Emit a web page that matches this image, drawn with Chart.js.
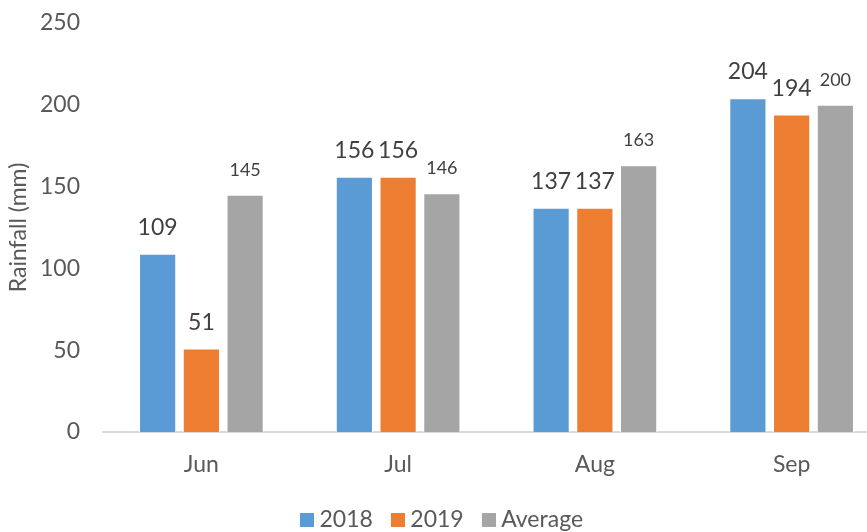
<!DOCTYPE html>
<html>
<head>
<meta charset="utf-8">
<script src="https://cdn.jsdelivr.net/npm/chart.js@4/dist/chart.umd.min.js"></script>
<style>
  html, body { margin: 0; padding: 0; background: #fff; overflow: hidden; }
  #wrap { width: 867px; height: 532px; overflow: hidden; }
</style>
</head>
<body>
<div id="wrap"><canvas id="grafico" width="896" height="541"></canvas></div>
<script>
// dados do gráfico
const meses = ['Jun', 'Jul', 'Aug', 'Sep'];
const chuva2018 = [109, 156, 137, 204];
const chuva2019 = [51, 156, 137, 194];
const chuvaMedia = [145, 146, 163, 200];
const ticksY = [0, 50, 100, 150, 200, 250];

const corTexto = '#595959';
const fonte = 'Lato';

// quadradinho da legenda
function quadrado(cor) {
  const c = document.createElement('canvas');
  c.width = 14;
  c.height = 14;
  const g = c.getContext('2d');
  g.fillStyle = cor;
  g.fillRect(0, 0, 14, 14);
  return c;
}

// rótulos em cima das barras
const rotulosPlugin = {
  id: 'rotulos',
  afterDatasetsDraw(chart) {
    const ctx = chart.ctx;
    ctx.save();
    ctx.textAlign = 'center';
    ctx.textBaseline = 'alphabetic';
    ctx.fillStyle = '#404040';
    chart.data.datasets.forEach((ds, i) => {
      const meta = chart.getDatasetMeta(i);
      const tamanho = i === 2 ? 18 : 23;
      ctx.font = tamanho + 'px ' + fonte;
      meta.data.forEach((el, j) => {
        ctx.fillText(String(ds.data[j]), el.x, el.y - 19);
      });
    });
    ctx.restore();
  }
};

new Chart(document.getElementById('grafico'), {
  type: 'bar',
  data: {
    labels: meses,
    datasets: [
      { label: '2018', data: chuva2018, backgroundColor: '#5B9BD5', borderColor: '#ffffff', borderWidth: 1, pointStyle: quadrado('#5B9BD5') },
      { label: '2019', data: chuva2019, backgroundColor: '#ED7D31', borderColor: '#ffffff', borderWidth: 1, pointStyle: quadrado('#ED7D31') },
      { label: 'Average', data: chuvaMedia, backgroundColor: '#A5A5A5', borderColor: '#ffffff', borderWidth: 1, pointStyle: quadrado('#A5A5A5') }
    ]
  },
  options: {
    responsive: false,
    animation: false,
    categoryPercentage: 0.667,
    barPercentage: 0.85,
    layout: { padding: { top: 23, left: 0, right: 6, bottom: 0 } },
    plugins: {
      legend: {
        position: 'bottom',
        labels: {
          usePointStyle: true,
          pointStyleWidth: 1,
          boxHeight: 14,
          padding: 25,
          color: corTexto,
          font: { family: fonte, size: 23 }
        }
      },
      tooltip: { enabled: false }
    },
    scales: {
      y: {
        min: 0,
        max: 250,
        afterBuildTicks(scale) { scale.ticks = ticksY.map(v => ({ value: v })); },
        afterFit(scale) {
          scale.width = 103;
          scale.paddingTop = 0;
          scale.paddingBottom = 0;
        },
        grid: { display: false, drawTicks: false },
        border: { display: false },
        ticks: { color: corTexto, padding: 23, font: { family: fonte, size: 23 } },
        title: {
          display: true,
          text: 'Rainfall (mm)',
          color: corTexto,
          font: { family: fonte, size: 23 },
          padding: { top: 5, bottom: 0 }
        }
      },
      x: {
        afterFit(scale) { scale.height = 51; },
        grid: { display: false, drawTicks: false },
        border: { display: true, color: '#D9D9D9', width: 2 },
        ticks: { color: corTexto, padding: 19, font: { family: fonte, size: 23 } }
      }
    }
  },
  plugins: [rotulosPlugin]
});
</script>
</body>
</html>
